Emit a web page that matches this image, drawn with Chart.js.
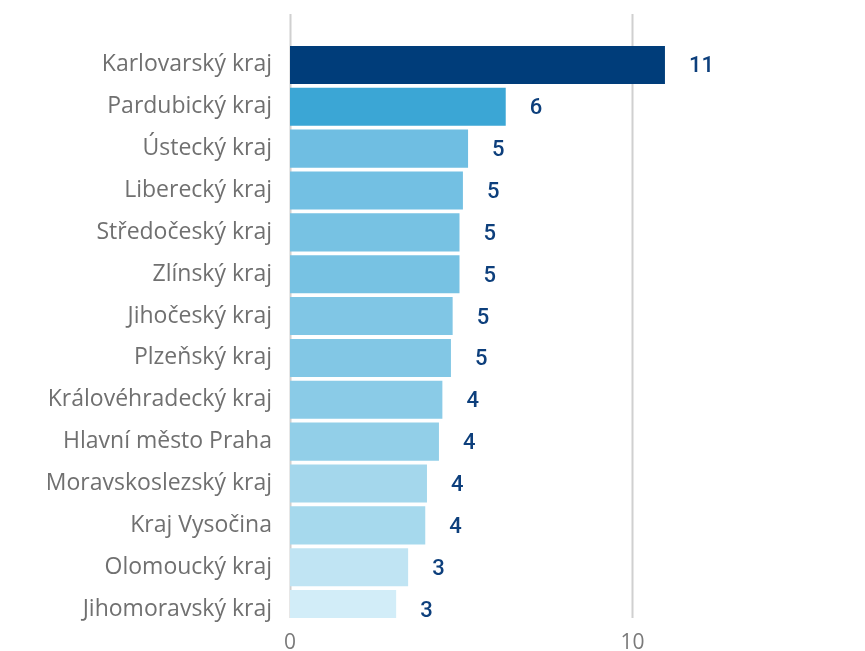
<!DOCTYPE html>
<html>
<head>
<meta charset="utf-8">
<script src="https://cdn.jsdelivr.net/npm/chart.js@4"></script>
<style>
  html, body { margin: 0; padding: 0; background: #fff; }
  #wrap { width: 865px; height: 651px; }
</style>
</head>
<body>
<div id="wrap"><canvas id="chart" width="865" height="651"></canvas></div>
<script>
const regions = ['Karlovarský kraj','Pardubický kraj','Ústecký kraj','Liberecký kraj','Středočeský kraj','Zlínský kraj','Jihočeský kraj','Plzeňský kraj','Královéhradecký kraj','Hlavní město Praha','Moravskoslezský kraj','Kraj Vysočina','Olomoucký kraj','Jihomoravský kraj'];
const values = [10.95, 6.3, 5.2, 5.05, 4.95, 4.95, 4.75, 4.7, 4.45, 4.35, 4.0, 3.95, 3.45, 3.1];
const barColors = ['#003d7a','#3ba6d5','#6fbee2','#73c0e3','#77c2e3','#77c2e3','#80c6e5','#82c7e5','#8acbe7','#92cfe8','#a4d7ec','#a6d9ed','#c0e4f3','#d2edf8'];
const xTicks = [0, 10];

// value labels to the right of each bar
const valueLabels = {
    id: 'valueLabels',
    afterDatasetsDraw(chart) {
        const ctx = chart.ctx;
        ctx.save();
        ctx.font = '500 22px Roboto';
        ctx.fillStyle = '#0d3f7c';
        ctx.textAlign = 'left';
        ctx.textBaseline = 'middle';
        chart.getDatasetMeta(0).data.forEach((bar, i) => {
            ctx.fillText(Math.round(values[i]), bar.x + 24, bar.y + 2);
        });
        ctx.restore();
    }
};

// vertical grid lines that run above the first bar
const gridLines = {
    id: 'gridLines',
    beforeDatasetsDraw(chart) {
        const ctx = chart.ctx;
        const x = chart.scales.x;
        ctx.save();
        ctx.strokeStyle = '#d0d0d0';
        ctx.lineWidth = 2;
        xTicks.forEach(t => {
            const px = Math.round(x.getPixelForValue(t)) + 0.5;
            ctx.beginPath();
            ctx.moveTo(px, 14);
            ctx.lineTo(px, chart.chartArea.bottom - 12);
            ctx.stroke();
        });
        ctx.restore();
    }
};

new Chart(document.querySelector('#chart'), {
    type: 'bar',
    data: {
        labels: regions,
        datasets: [{
            data: values,
            backgroundColor: barColors,
            barPercentage: 0.91,
            categoryPercentage: 1,
            clip: {left: 10, top: 10, right: 10, bottom: -12}
        }]
    },
    options: {
        indexAxis: 'y',
        responsive: false,
        animation: false,
        layout: { padding: { top: 44, right: 10, left: 0, bottom: 0 } },
        plugins: { legend: { display: false }, tooltip: { enabled: false } },
        scales: {
            x: {
                min: 0,
                max: 16.5,
                border: { display: false },
                grid: { display: false, drawTicks: false },
                afterBuildTicks: (scale) => { scale.ticks = xTicks.map(v => ({ value: v })); },
                afterFit: (scale) => { scale.height = 21; scale.paddingLeft = 0; scale.paddingRight = 0; },
                ticks: { color: '#7a7a7a', padding: 0, font: { family: 'Open Sans', size: 21 } }
            },
            y: {
                border: { display: false },
                grid: { display: false, drawTicks: false },
                afterFit: (scale) => { scale.width = 290; scale.paddingTop = 0; scale.paddingBottom = 0; },
                ticks: { color: '#707070', padding: 18, font: { family: 'Open Sans', size: 23 } }
            }
        }
    },
    plugins: [gridLines, valueLabels]
});
</script>
</body>
</html>
